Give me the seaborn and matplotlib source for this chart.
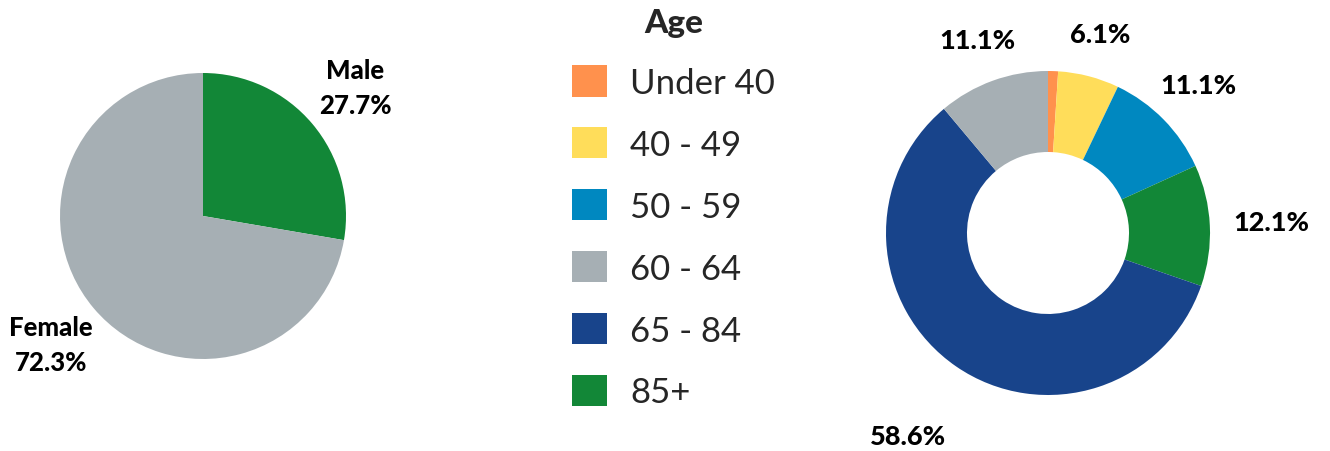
import numpy as np
import matplotlib
matplotlib.use("Agg")
import matplotlib.pyplot as plt
from matplotlib.patches import Patch
import seaborn as sns

# Gender split
gender_labels = ["Male", "Female"]
gender_values = [27.7, 72.3]

# Age distribution
age_groups = ["Under 40", "40 - 49", "50 - 59", "85+", "65 - 84", "60 - 64"]
age_values = [1.0, 6.1, 11.1, 12.1, 58.6, 11.1]
age_shown = [False, True, True, True, True, True]
legend_order = ["Under 40", "40 - 49", "50 - 59", "60 - 64", "65 - 84", "85+"]

sns.set_theme(style="white")
plt.rcParams["font.family"] = ["Lato", "DejaVu Sans"]

palette = {
    "Male": "#128737",
    "Female": "#a6afb4",
    "Under 40": "#ff914d",
    "40 - 49": "#ffdd5a",
    "50 - 59": "#0088c0",
    "60 - 64": "#a6afb4",
    "65 - 84": "#18448b",
    "85+": "#128737",
}

W, H = 1330, 452
fig = plt.figure(figsize=(W / 100, H / 100), dpi=100)
LIM = 1.6


def square_axes(cx, cy, r):
    side = 2 * LIM * r
    ax = fig.add_axes([(cx - side / 2) / W, (H - cy - side / 2) / H, side / W, side / H])
    ax.set_xlim(-LIM, LIM)
    ax.set_ylim(-LIM, LIM)
    ax.set_aspect("equal")
    ax.axis("off")
    return ax


def mid_angle(w):
    return np.deg2rad((w.theta1 + w.theta2) / 2)


# Gender pie
ax1 = square_axes(203, 217, 143)
wedges, _ = ax1.pie(gender_values, colors=[palette[g] for g in gender_labels],
                    startangle=90, counterclock=False, radius=1,
                    wedgeprops=dict(linewidth=0))
ax1.set_xlim(-LIM, LIM)
ax1.set_ylim(-LIM, LIM)
for w, name, v in zip(wedges, gender_labels, gender_values):
    a = mid_angle(w)
    ax1.text(1.39 * np.cos(a), 1.39 * np.sin(a), f"{name}\n{v:.1f}%",
             ha="center", va="center", fontsize=18.5, fontweight="black",
             linespacing=1.55, color="black", clip_on=False)

# Age donut
ax2 = square_axes(1048, 234, 162)
wedges2, _ = ax2.pie(age_values, colors=[palette[g] for g in age_groups],
                     startangle=90, counterclock=False, radius=1,
                     wedgeprops=dict(width=0.5, linewidth=0))
ax2.set_xlim(-LIM, LIM)
ax2.set_ylim(-LIM, LIM)
label_dist = [1.3, 1.27, 1.3, 1.38, 1.52, 1.27]
for w, v, show, d in zip(wedges2, age_values, age_shown, label_dist):
    if not show:
        continue
    a = mid_angle(w)
    ax2.text(d * np.cos(a), d * np.sin(a), f"{v:.1f}%",
             ha="center", va="center", fontsize=19.5, fontweight="black",
             color="black", clip_on=False)

# Legend
handles = [Patch(facecolor=palette[g], edgecolor="none", label=g) for g in legend_order]
leg = fig.legend(handles=handles, loc="upper left",
                 bbox_to_anchor=(572 / W, 1 - 9 / H), frameon=False,
                 fontsize=25, title="Age", title_fontproperties=dict(size=24, weight="black"),
                 handlelength=1.0, handleheight=1.0, handletextpad=0.68,
                 labelspacing=0.82, borderpad=0, borderaxespad=0)

fig.savefig("out.png", dpi=100)
